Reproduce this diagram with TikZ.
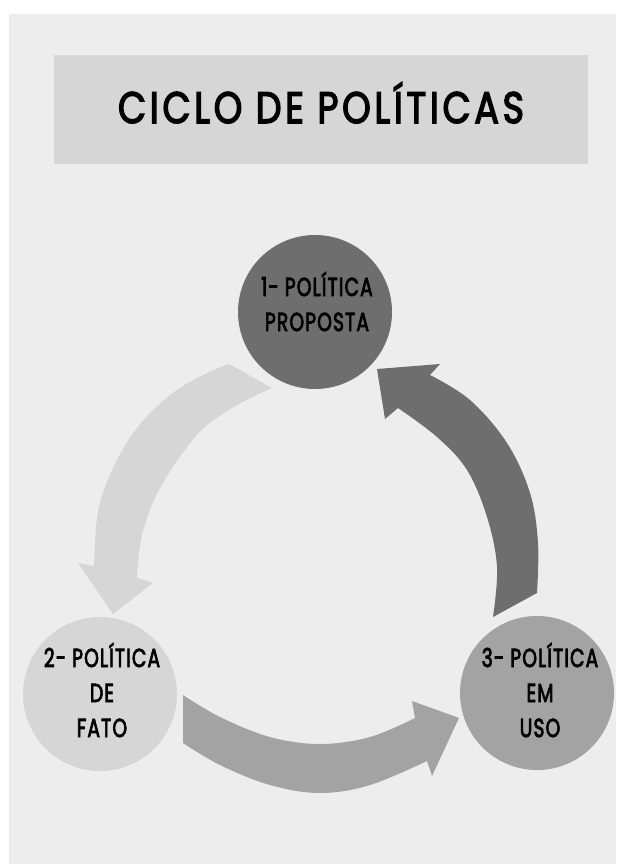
\documentclass[tikz,border=0pt]{standalone}
\usepackage{fontspec}
\setmainfont{Poppins}
\newfontfamily\titlefont[FakeBold=3.5,LetterSpace=10]{Poppins}
\newfontfamily\circfont[FakeBold=3.5,LetterSpace=6]{Poppins}
\usepackage{graphicx}
\definecolor{bgpaper}{HTML}{EDEDED}
\definecolor{lightg}{HTML}{D6D6D6}
\definecolor{midg}{HTML}{A3A3A3}
\definecolor{darkg}{HTML}{6E6E6E}
\newcommand{\circtext}[1]{\scalebox{0.72}[1]{\begin{tabular}[t]{@{}c@{}}#1\end{tabular}}}
\begin{document}
\begin{tikzpicture}[x=1pt,y=-1pt,
  circ/.style={circle,minimum size=154pt,inner sep=0pt},
  ctext/.style={anchor=base,inner sep=0pt,font=\circfont\fontsize{26}{35}\selectfont},
  ttext/.style={anchor=base,inner sep=0pt,font=\titlefont\fontsize{44}{44}\selectfont}]
\useasboundingbox (0,0) rectangle (616,866);
\fill[white] (0,0) rectangle (616,866);
\fill[bgpaper] (9,14) rectangle (616,864);
% title
\fill[lightg] (54,55) rectangle (588,164);
\node[ttext] (title) at (321,123) {\resizebox{406pt}{\height}{CICLO DE POLÍTICAS}};
% arrows
\fill[lightg] (229,364) -- plot[smooth,tension=0.6] coordinates {(272,388) (232,408) (197,435) (160,488) (142,535) (137,578)}
  -- (153,583) -- (113,614) -- (78,563) --
  plot[smooth,tension=0.6] coordinates {(94,566) (98,512) (113,468) (137,428) (170,395) (203,375) (229,364)} -- cycle;
\fill[darkg] (537,593) -- plot[smooth,tension=0.6] coordinates {(493,617) (497,567) (487,517) (467,470) (437,437) (398,408)}
  -- (385,419) -- (377,369) -- (440,364) --
  plot[smooth,tension=0.6] coordinates {(430,375) (470,400) (507,443) (530,493) (538,543) (537,593)} -- cycle;
\fill[midg] plot[smooth,tension=0.6] coordinates {(183,695) (220,717) (270,737) (320,744) (370,737) (415,718)}
  -- (412,701) -- (459,718) -- (432,776) --
  plot[smooth,tension=0.6] coordinates {(427,761) (370,785) (320,793) (270,785) (220,765) (183,743)} -- cycle;
% circles
\node[circ,fill=darkg] (p1) at (315,312) {};
\node[circ,fill=lightg] (p2) at (100,694) {};
\node[circ,fill=midg] (p3) at (537,693) {};
\node[ctext] (t1) at (317,296) {\circtext{1- POLÍTICA\\PROPOSTA}};
\node[ctext] (t2) at (102,667) {\circtext{2- POLÍTICA\\DE\\FATO}};
\node[ctext] (t3) at (540,667) {\circtext{3- POLÍTICA\\EM\\USO}};
\end{tikzpicture}
\end{document}
